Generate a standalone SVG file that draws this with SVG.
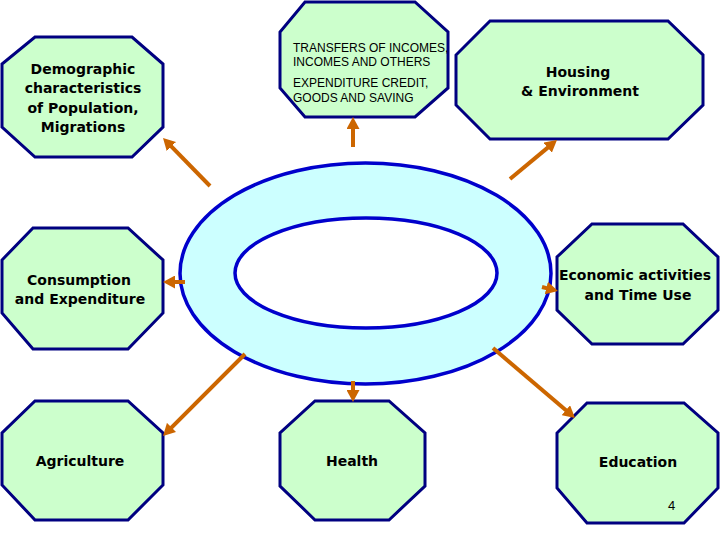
<svg xmlns="http://www.w3.org/2000/svg" width="720" height="540" viewBox="0 0 720 540">
<style>
.oct{fill:#ccffcc;stroke:#000080;stroke-width:3;stroke-linejoin:miter}
.lbl{font-family:"DejaVu Sans",Verdana,sans-serif;font-weight:bold;font-size:14px;fill:#000;text-anchor:middle}
.sm{font-family:"Liberation Sans",Arial,sans-serif;font-size:12px;fill:#000}
.ring{fill:#ccffff;fill-rule:evenodd;stroke:none}
.ringline{fill:none;stroke:#0000cc;stroke-width:3.5}
.arr{stroke:#cc6600;stroke-width:4;fill:none;marker-end:url(#ah)}
</style>
<defs>
<marker id="ah" markerUnits="userSpaceOnUse" markerWidth="13" markerHeight="13" refX="4" refY="6.5" orient="auto" viewBox="0 0 13 13">
<path d="M0,0 L12,6.5 L0,13 z" fill="#cc6600"/>
</marker>
</defs>
<rect width="720" height="540" fill="#fff"/>
<g id="ring">
<path class="ring" d="M180,273.5 a185.5,110.5 0 1,0 371,0 a185.5,110.5 0 1,0 -371,0 z M235,273 a131,55 0 1,0 262,0 a131,55 0 1,0 -262,0 z"/>
<ellipse class="ringline" cx="365.5" cy="273.5" rx="185.5" ry="110.5"/>
<ellipse class="ringline" cx="366" cy="273" rx="131" ry="55"/>
</g>
<g id="node-demographic">
<polygon class="oct" points="35,37 132,37 163,64 163,127 132,157 35,157 2,127 2,64"/>
<text class="lbl" x="83" y="74">Demographic</text>
<text class="lbl" x="83" y="93.3">characteristics</text>
<text class="lbl" x="83" y="112.6">of Population,</text>
<text class="lbl" x="83" y="132">Migrations</text>
</g>
<g id="node-transfers">
<polygon class="oct" points="305,2 415,2 448,32 448,88 415,117 305,117 280,88 280,32"/>
<text class="sm" x="293" y="52">TRANSFERS OF INCOMES,</text>
<text class="sm" x="293" y="66">INCOMES AND OTHERS</text>
<text class="sm" x="293" y="87">EXPENDITURE  CREDIT,</text>
<text class="sm" x="293" y="102">GOODS AND SAVING</text>
</g>
<g id="node-housing">
<polygon class="oct" points="490,21 668,21 703,55 703,105 668,139 490,139 456,105 456,55"/>
<text class="lbl" x="578" y="77">Housing</text>
<text class="lbl" x="580" y="96">&amp; Environment</text>
</g>
<g id="node-consumption">
<polygon class="oct" points="33,228 128,228 163,260 163,313 128,349 33,349 2,313 2,260"/>
<text class="lbl" x="79" y="285">Consumption</text>
<text class="lbl" x="80" y="304">and Expenditure</text>
</g>
<g id="node-economic">
<polygon class="oct" points="592,224 683,224 718,257 718,310 683,344 592,344 557,310 557,257"/>
<text class="lbl" x="635" y="280">Economic activities</text>
<text class="lbl" x="638" y="300">and Time Use</text>
</g>
<g id="node-agriculture">
<polygon class="oct" points="35,401 128,401 163,433 163,485 128,520 35,520 2,485 2,433"/>
<text class="lbl" x="80" y="466">Agriculture</text>
</g>
<g id="node-health">
<polygon class="oct" points="315,401 389,401 425,433 425,486 389,520 315,520 280,486 280,433"/>
<text class="lbl" x="352" y="466">Health</text>
</g>
<g id="node-education">
<polygon class="oct" points="587,403 684,403 718,433 718,488 684,523 587,523 557,488 557,433"/>
<text class="lbl" x="638" y="467">Education</text>
<text class="sm" x="668" y="510" style="font-size:13px">4</text>
</g>
<g id="connectors">
<line class="arr" x1="210" y1="186" x2="168.6" y2="143.7"/>
<line class="arr" x1="353" y1="147" x2="353" y2="125"/>
<line class="arr" x1="510" y1="179" x2="550.8" y2="145.1"/>
<line class="arr" x1="185" y1="282" x2="171" y2="282"/>
<line class="arr" x1="542" y1="287" x2="550.2" y2="289.1"/>
<line class="arr" x1="245" y1="354" x2="168.7" y2="430.3"/>
<line class="arr" x1="353" y1="381" x2="353" y2="394"/>
<line class="arr" x1="493" y1="348" x2="568.9" y2="412.8"/>
</g>
</svg>
